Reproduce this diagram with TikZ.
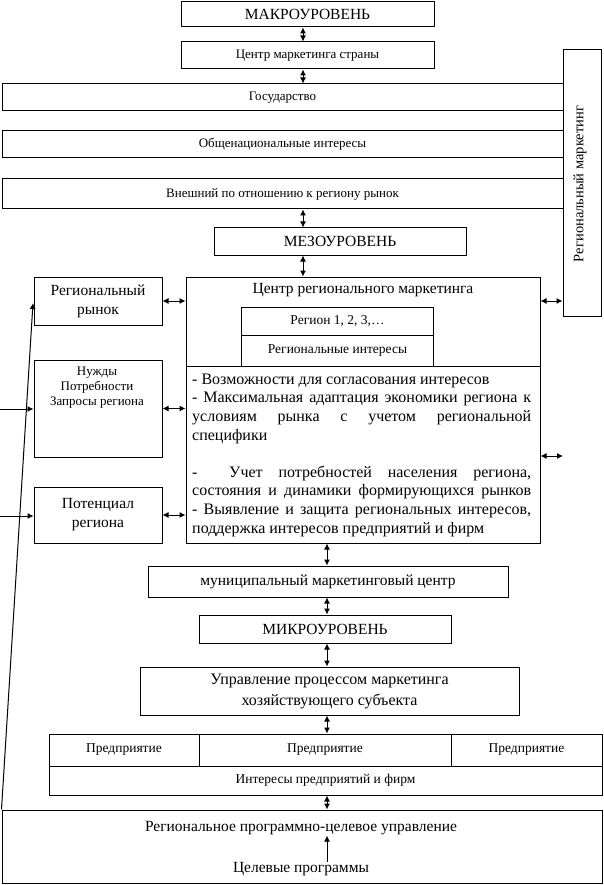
\documentclass[tikz,border=0pt]{standalone}
\usepackage{fontspec}
\setmainfont{Liberation Serif}
\usetikzlibrary{arrows.meta,calc}
\newcommand{\fsz}[2]{\fontsize{#1}{#2}\selectfont}
\tikzset{
  box/.style={draw, line width=1pt, inner sep=0pt, align=center},
  dbl/.style={line width=1pt, {Latex[length=6pt,width=6pt]}-{Latex[length=6pt,width=6pt]}},
  sgl/.style={line width=1pt, -{Latex[length=6pt,width=6pt]}},
  big/.style={font=\fsz{15.5}{19}},
  mid/.style={font=\fsz{13}{16}},
  sml/.style={font=\fsz{13.5}{15}},
}
\begin{document}
\begin{tikzpicture}[x=1pt,y=-1pt]
\useasboundingbox (0,0) rectangle (603,885);
% top column
\node[box,big,minimum width=253pt,minimum height=25pt] (macro) at (307.5,14.5) {МАКРОУРОВЕНЬ};
\node[box,mid,minimum width=253pt,minimum height=27pt] (cms) at (307.5,55.5) {Центр маркетинга страны};
\node[box,mid,minimum width=561pt,minimum height=27pt] (gos) at (282.5,97.5) {Государство};
\node[box,mid,minimum width=561pt,minimum height=27pt] (obsch) at (282.5,144.5) {Общенациональные интересы};
\node[box,mid,minimum width=561pt,minimum height=30pt] (vnesh) at (282.5,194) {Внешний по отношению к региону рынок};
\node[box,minimum width=38pt,minimum height=266pt] (vert) at (582,183) {};
\node[font=\fsz{14.5}{17},rotate=90,inner sep=0pt] (vertt) at (580,184) {Региональный маркетинг};
\node[box,big,minimum width=252pt,minimum height=27pt] (meso) at (340,241.5) {МЕЗОУРОВЕНЬ};
% regional center
\node[box,minimum width=354pt,minimum height=266pt] (crm) at (363,410) {};
\node[big,inner sep=0pt,anchor=base] (crmt) at (363,293) {Центр регионального маркетинга};
\node[box,sml,minimum width=192pt,minimum height=28pt] (reg123) at (337.5,321) {Регион 1, 2, 3,\dots};
\node[box,sml,minimum width=192pt,minimum height=31pt] (regint) at (337.5,350.5) {Региональные интересы};
\draw[line width=1pt] (crm.west |- regint.south) -- (crm.east |- regint.south);
\node[font=\fsz{16}{18.6},inner sep=0pt,anchor=base west,align=left] (bul) at (192,533) {%
- Возможности для согласования интересов\\
\makebox[339pt][s]{- Максимальная адаптация экономики региона к}\\
\makebox[339pt][s]{условиям рынка с учетом региональной}\\
специфики\\
\mbox{}\\
\makebox[339pt][s]{- \ Учет потребностей населения региона,}\\
\makebox[339pt][s]{состояния и динамики формирующихся рынков}\\
\makebox[339pt][s]{- Выявление и защита региональных интересов,}\\
поддержка интересов предприятий и фирм};
% left boxes
\node[box,big,minimum width=128pt,minimum height=48pt] (rr) at (98,301) {Региональный\\рынок};
\node[box,minimum width=128pt,minimum height=97pt] (nuzhdy) at (98,408.5) {};
\node[font=\fsz{13}{15},inner sep=0pt,anchor=base,align=center] (nuzt) at (97,405) {Нужды\\Потребности\\Запросы региона};
\node[box,big,minimum width=128pt,minimum height=56pt] (pot) at (98,515) {Потенциал\\региона};
% lower column
\node[box,big,minimum width=360pt,minimum height=31pt] (mun) at (328,581.5) {муниципальный маркетинговый центр};
\node[box,big,minimum width=252pt,minimum height=28pt] (micro) at (325,629) {МИКРОУРОВЕНЬ};
\node[box,big,minimum width=379pt,minimum height=48pt,font=\fsz{16}{21}] (upr) at (329.5,691) {Управление процессом маркетинга\\хозяйствующего субъекта};
\node[box,sml,minimum width=150pt,minimum height=32pt] (p1) at (124,750) {Предприятие};
\node[box,sml,minimum width=252pt,minimum height=32pt] (p2) at (325,750) {Предприятие};
\node[box,sml,minimum width=151pt,minimum height=32pt] (p3) at (526.5,750) {Предприятие};
\node[box,sml,minimum width=553pt,minimum height=29pt] (intf) at (325.5,780.5) {Интересы предприятий и фирм};
\node[box,minimum width=600pt,minimum height=73pt] (bot) at (302,846.5) {};
\node[big,inner sep=0pt,anchor=base] (regt) at (301,831) {Региональное программно-целевое управление};
\node[big,inner sep=0pt,anchor=base] (celt) at (301,872) {Целевые программы};
% connectors
\coordinate (ax) at (303,0);
\coordinate (bx) at (327,0);
\draw[dbl] (ax |- macro.south) -- (ax |- cms.north);
\draw[dbl] (ax |- cms.south) -- (ax |- gos.north);
\draw[dbl] (ax |- vnesh.south) -- (ax |- meso.north);
\draw[dbl] (ax |- meso.south) -- (ax |- crm.north);
\draw[dbl] (rr.east) -- (rr.east -| crm.west);
\draw[dbl] (nuzhdy.east) -- (nuzhdy.east -| crm.west);
\draw[dbl] (pot.east) -- (pot.east -| crm.west);
\draw[dbl] (crm.east |- rr.east) -- (vert.west |- rr.east);
\coordinate (stub) at (563,456);
\draw[dbl] (crm.east |- stub) -- (stub);
\coordinate (in1) at (0,409);
\coordinate (in2) at (0,516);
\draw[sgl] (in1) -- (in1 -| nuzhdy.west);
\draw[sgl] (in2) -- (in2 -| pot.west);
\draw[dbl] (bx |- crm.south) -- (bx |- mun.north);
\draw[dbl] (bx |- mun.south) -- (bx |- micro.north);
\draw[dbl] (bx |- micro.south) -- (bx |- upr.north);
\draw[dbl] (bx |- upr.south) -- (bx |- p2.north);
\draw[dbl] (bx |- intf.south) -- (bx |- bot.north);
\draw[sgl] (bx |- celt.north) -- ($(bx |- regt.south)+(0,1)$);
\coordinate (rrin) at (33,303);
\draw[sgl] (bot.north west) -- (rrin);
\end{tikzpicture}
\end{document}
